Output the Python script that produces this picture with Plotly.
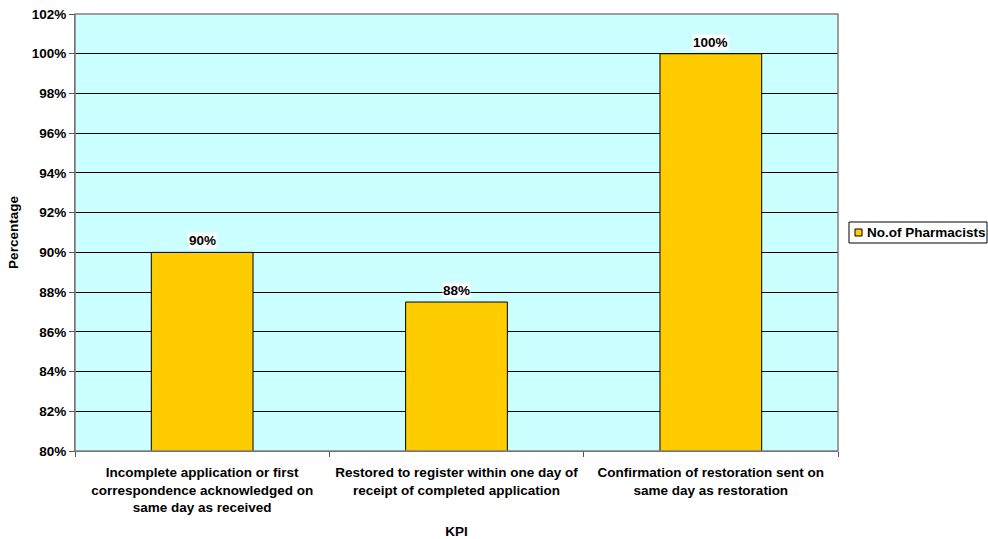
import plotly.graph_objects as go

categories = [
    "Incomplete application or first<br>correspondence acknowledged on<br>same day as received",
    "Restored to register within one day of<br>receipt of completed application",
    "Confirmation of restoration sent on<br>same day as restoration",
]
values = [90, 87.5, 100]
series_name = "No.of Pharmacists"
labels = [f"{round(v)}%" for v in values]

FONT = "Liberation Sans, Arial, sans-serif"
FS = 13.5
BAR_COLOR = "#FFCC00"

fig = go.Figure()
fig.add_trace(go.Bar(
    x=categories, y=values, name=series_name,
    marker=dict(color=BAR_COLOR, line=dict(color="#000000", width=1)),
    showlegend=False,
))

for c, v, t in zip(categories, values, labels):
    fig.add_annotation(
        x=c, y=v, text=f"<b>{t}</b>", showarrow=False,
        yanchor="bottom", yshift=3, bgcolor="white", borderpad=0,
        font=dict(family=FONT, size=FS, color="black"),
    )

# custom legend (box, swatch, text) in paper coordinates
fig.add_shape(type="rect", xref="paper", yref="paper",
              x0=1.0144, x1=1.1953, y0=0.476, y1=0.524,
              line=dict(color="black", width=1), fillcolor="white")
fig.add_shape(type="rect", xref="paper", yref="paper",
              x0=1.0223, x1=1.0315, y0=0.492, y1=0.508,
              line=dict(color="black", width=1), fillcolor=BAR_COLOR)
fig.add_annotation(xref="paper", yref="paper", x=1.0354, y=0.5,
                   xanchor="left", yanchor="middle", showarrow=False,
                   text=f"<b>{series_name}</b>",
                   font=dict(family=FONT, size=FS, color="black"))

fig.update_layout(
    width=988, height=539,
    margin=dict(l=75, r=150, t=14, b=88, autoexpand=False),
    paper_bgcolor="white", plot_bgcolor="#CCFFFF",
    bargap=0.6,
    font=dict(family=FONT, size=FS, color="black"),
    showlegend=False,
    xaxis=dict(
        title=dict(text="<b>KPI</b>", font=dict(size=FS), standoff=12),
        tickfont=dict(size=FS),
        automargin=False,
        tickson="boundaries", ticks="outside", ticklen=5, tickcolor="#555555",
        ticklabelstandoff=9,
        showline=True, linecolor="#555555", linewidth=1, mirror=False,
        showgrid=False,
        tickprefix="<b>", ticksuffix="</b>",
    ),
    yaxis=dict(
        title=dict(text="<b>Percentage</b>", font=dict(size=FS), standoff=10),
        automargin=False,
        range=[80, 102], dtick=2, tick0=80,
        ticksuffix="%", tickprefix="<b>",
        tickfont=dict(size=FS),
        ticks="outside", ticklen=5, tickcolor="#555555",
        showline=True, linecolor="#555555", linewidth=1,
        showgrid=True, gridcolor="#000000", gridwidth=1,
        zeroline=False,
    ),
)

fig.add_shape(type="rect", xref="paper", yref="paper", x0=0, x1=1, y0=0, y1=1,
              line=dict(color="#808080", width=1.5), layer="above")

fig.write_html("out.html", config={"displayModeBar": False},
               post_script="document.body.style.margin='0';")
